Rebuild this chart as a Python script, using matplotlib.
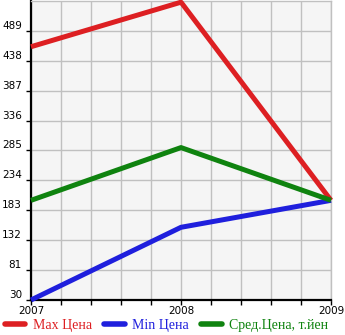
import matplotlib
matplotlib.use('Agg')
import matplotlib.pyplot as plt
from matplotlib.ticker import MultipleLocator

years = [2007, 2008, 2009]
max_price = [462, 538, 200]
min_price = [30, 154, 200]
avg_price = [200, 290, 200]
yticks = [30, 81, 132, 183, 234, 285, 336, 387, 438, 489]

labels = ['Max Цена', 'Min Цена', 'Сред.Цена, т.йен']
colors = ['#dd1f22', '#1f1fdd', '#0f830f']

fig = plt.figure(figsize=(3.45, 3.35), dpi=100)
ax = fig.add_axes([31/345, 35/335, 300/345, 299/335])
ax.set_facecolor('#f5f5f5')

for vals, c, lab in zip([max_price, min_price, avg_price], colors, labels):
    ax.plot(years, vals, color=c, lw=3.6, label=lab, clip_on=False, zorder=3,
            solid_capstyle='butt')

ax.set_xlim(2007, 2009)
ax.set_ylim(30, 540)
ax.set_yticks(yticks)
ax.set_yticklabels([str(v) for v in yticks])
ax.set_xticks(years)
ax.xaxis.set_minor_locator(MultipleLocator(0.2))
ax.grid(True, which='major', axis='y', color='#c0c0c0', lw=1)
ax.grid(True, which='both', axis='x', color='#c0c0c0', lw=1)
ax.set_axisbelow(True)

for s in ['top', 'right']:
    ax.spines[s].set_color('#c0c0c0')
    ax.spines[s].set_linewidth(1)
for s in ['left', 'bottom']:
    ax.spines[s].set_color('black')
    ax.spines[s].set_linewidth(1.6)

ax.tick_params(which='both', length=3.5, width=1, color='black', labelsize=7.5, pad=1)
ax.tick_params(axis='y', pad=3)
for t in ax.get_yticklabels():
    t.set_verticalalignment('bottom')

leg = fig.legend(loc='lower left', bbox_to_anchor=(0.003, 0.0), ncol=3, frameon=False,
                 prop={'family': 'Liberation Serif', 'size': 10}, handlelength=1.5,
                 columnspacing=0.85, handletextpad=0.55, borderaxespad=0.0,
                 borderpad=0.25)
for txt, c in zip(leg.get_texts(), colors):
    txt.set_color(c)
for ln in leg.get_lines():
    ln.set_solid_capstyle('round')
    ln.set_linewidth(4)

fig.savefig('out.png', dpi=100)
